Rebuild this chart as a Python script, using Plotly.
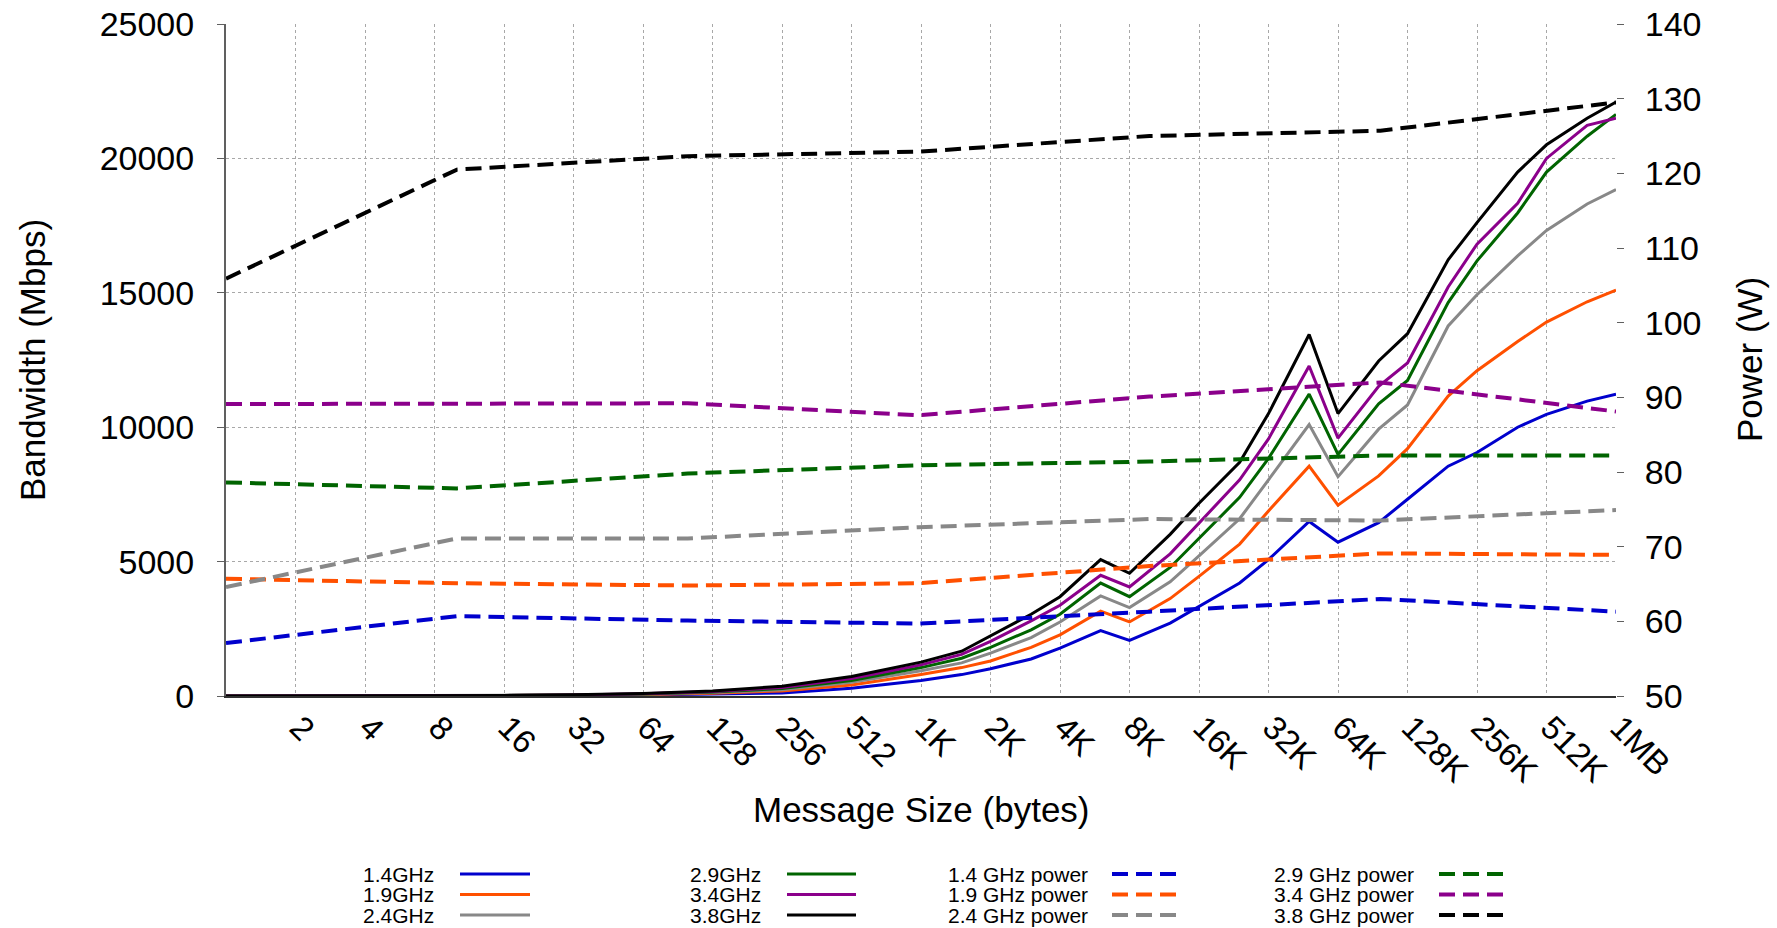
import plotly.graph_objects as go

# ---------------- data ----------------
# message sizes (bytes) at which bandwidth was measured
bw_sizes = [1, 2, 4, 8, 16, 32, 64, 128, 256, 512, 1024, 1536, 2048, 3072, 4096,
            6144, 8192, 12288, 16384, 24576, 32768, 49152, 65536, 98304, 131072,
            196608, 262144, 393216, 524288, 786432, 1048576]

bw_14 = [0.5, 1, 2, 4, 8, 16, 33, 65, 116, 290, 579, 796, 1014, 1376, 1782,
         2434, 2072, 2710, 3333, 4203, 5072, 6492, 5724, 6449, 7318,
         8550, 9057, 9999, 10478, 10970, 11231]
bw_19 = [0.8, 1.6, 3.2, 6.5, 13, 26, 52, 105, 188, 406, 796, 1057, 1304, 1811, 2275,
         3159, 2754, 3623, 4449, 5652, 6884, 8550, 7101, 8188, 9202,
         11159, 12101, 13188, 13912, 14666, 15101]
bw_24 = [1, 2, 4, 8, 16, 32, 65, 130, 232, 507, 941, 1231, 1594, 2173, 2754,
         3724, 3290, 4246, 5217, 6594, 8043, 10101, 8159, 9927, 10826,
         13767, 14927, 16376, 17318, 18303, 18840]
bw_29 = [1.2, 2.4, 4.5, 9, 18, 36, 75, 150, 275, 579, 1057, 1405, 1811, 2463, 3043,
         4202, 3695, 4782, 5869, 7391, 8840, 11231, 8985, 10869, 11738,
         14637, 16188, 17970, 19492, 20825, 21637]
bw_34 = [1.3, 2.6, 5, 10, 20, 40, 85, 170, 319, 652, 1159, 1550, 2029, 2797, 3376,
         4492, 4058, 5289, 6449, 8043, 9565, 12275, 9594, 11521, 12391,
         15217, 16811, 18332, 19999, 21231, 21492]
bw_38 = [1.5, 3, 6, 12, 23, 46, 95, 190, 362, 724, 1261, 1666, 2246, 3043, 3695,
         5072, 4565, 6014, 7173, 8695, 10507, 13448, 10507, 12463, 13478,
         16231, 17608, 19492, 20506, 21492, 22100]

# message sizes (bytes) at which power was measured
pw_sizes = [1, 10, 100, 1000, 10000, 100000, 1048576]

pw_14 = [57.1, 60.7, 60.1, 59.7, 61.3, 63.0, 61.3]
pw_19 = [65.7, 65.1, 64.8, 65.1, 67.4, 69.1, 68.9]
pw_24 = [64.6, 71.1, 71.1, 72.6, 73.7, 73.5, 74.9]
pw_29 = [78.6, 77.8, 79.8, 80.9, 81.4, 82.2, 82.2]
pw_34 = [89.1, 89.1, 89.2, 87.6, 90.1, 92.0, 88.1]
pw_38 = [105.9, 120.5, 122.3, 122.9, 125.0, 125.7, 129.5]

tick_labels = ['2', '4', '8', '16', '32', '64', '128', '256', '512', '1K', '2K', '4K',
               '8K', '16K', '32K', '64K', '128K', '256K', '512K', '1MB']
tick_vals = [2 ** (i + 1) for i in range(len(tick_labels))]

bw_names = ['1.4GHz', '1.9GHz', '2.4GHz', '2.9GHz', '3.4GHz', '3.8GHz']
pw_names = ['1.4 GHz power', '1.9 GHz power', '2.4 GHz power',
            '2.9 GHz power', '3.4 GHz power', '3.8 GHz power']
colors = ['#0000cd', '#ff5000', '#888888', '#006400', '#8b008b', '#000000']

bw_series = [bw_14, bw_19, bw_24, bw_29, bw_34, bw_38]
pw_series = [pw_14, pw_19, pw_24, pw_29, pw_34, pw_38]

# ---------------- figure ----------------
W, H = 1777, 928
ML, MR, MT, MB = 226, 161, 24, 232
PW, PH = W - ML - MR, H - MT - MB
FONT = 'Liberation Sans, Arial, Helvetica, sans-serif'
DASH = '16px,8px'

fig = go.Figure()
for name, ys, c in zip(bw_names, bw_series, colors):
    fig.add_trace(go.Scatter(x=bw_sizes, y=ys, mode='lines', name=name,
                             line=dict(color=c, width=3), showlegend=False))
for name, ys, c in zip(pw_names, pw_series, colors):
    fig.add_trace(go.Scatter(x=pw_sizes, y=ys, mode='lines', name=name, yaxis='y2',
                             line=dict(color=c, width=4, dash=DASH), showlegend=False))


def px(xs):
    """figure x pixel -> paper x"""
    return (xs - ML) / PW


def py(ys):
    """figure y pixel -> paper y"""
    return (MT + PH - ys) / PH


annotations = [
    dict(text='Message Size (bytes)', x=0.5, y=py(809), xref='paper', yref='paper',
         showarrow=False, xanchor='center', yanchor='middle',
         font=dict(size=35, color='black', family=FONT)),
    dict(text='Bandwidth (Mbps)', x=px(32), y=py(360), xref='paper', yref='paper',
         showarrow=False, xanchor='center', yanchor='middle', textangle=-90,
         font=dict(size=35, color='black', family=FONT)),
    dict(text='Power (W)', x=px(1749), y=py(360), xref='paper', yref='paper',
         showarrow=False, xanchor='center', yanchor='middle', textangle=-90,
         font=dict(size=35, color='black', family=FONT)),
]
shapes = []

# manual key: text right-aligned, then line sample (gnuplot style)
col_text_right = [436, 763, 1090, 1416]
col_sample = [(460, 530), (787, 856), (1112, 1178), (1439, 1504)]
row_y = [874, 894.5, 915]
all_names = bw_names + pw_names
for i, name in enumerate(all_names):
    col, row = divmod(i, 3)
    c = colors[i % 6]
    annotations.append(dict(text=name, x=px(col_text_right[col]), y=py(row_y[row]),
                            xref='paper', yref='paper', showarrow=False,
                            xanchor='right', yanchor='middle',
                            font=dict(size=21, color='black', family=FONT)))
    x0, x1 = col_sample[col]
    shapes.append(dict(type='line', xref='paper', yref='paper',
                       x0=px(x0), x1=px(x1), y0=py(row_y[row]), y1=py(row_y[row]),
                       line=dict(color=c, width=3 if i < 6 else 4,
                                 dash='solid' if i < 6 else DASH)))

fig.update_layout(
    width=W, height=H,
    margin=dict(l=ML, r=MR, t=MT, b=MB, pad=0),
    paper_bgcolor='white', plot_bgcolor='white',
    font=dict(family=FONT, color='black', size=34),
    xaxis=dict(type='log', range=[0, 6.020599913], tickmode='array',
               tickvals=tick_vals, ticktext=tick_labels, tickangle=45,
               showgrid=True, gridcolor='#a8a8a8', griddash='dot', gridwidth=1,
               showline=True, linecolor='#303030', linewidth=2,
               ticks='', zeroline=False, tickfont=dict(size=33),
               automargin=False, ticklabelshift=4, ticklabelstandoff=-3,
               ticklabeloverflow='allow'),
    yaxis=dict(range=[0, 25000], dtick=5000, tickformat='d',
               showgrid=True, gridcolor='#a8a8a8',
               griddash='dot', gridwidth=1, showline=True, linecolor='#606060',
               linewidth=2, ticks='outside', ticklen=7, tickcolor='#606060',
               zeroline=False, tickfont=dict(size=34), automargin=False,
               ticklabelstandoff=16, ticklabeloverflow='allow'),
    yaxis2=dict(range=[50, 140], dtick=10, tickformat='d', overlaying='y', side='right',
                showgrid=False, showline=False, ticks='outside', ticklen=7,
                tickcolor='#606060', zeroline=False, tickfont=dict(size=34),
                automargin=False, ticklabelstandoff=14, ticklabeloverflow='allow'),
    annotations=annotations,
    shapes=shapes,
    showlegend=False,
)

# remove the default 8px page margin so the figure fills the window exactly
fig.write_html('out.html',
               config={'displayModeBar': False},
               post_script="document.body.style.margin='0px';"
                           "document.documentElement.style.overflow='hidden';")
